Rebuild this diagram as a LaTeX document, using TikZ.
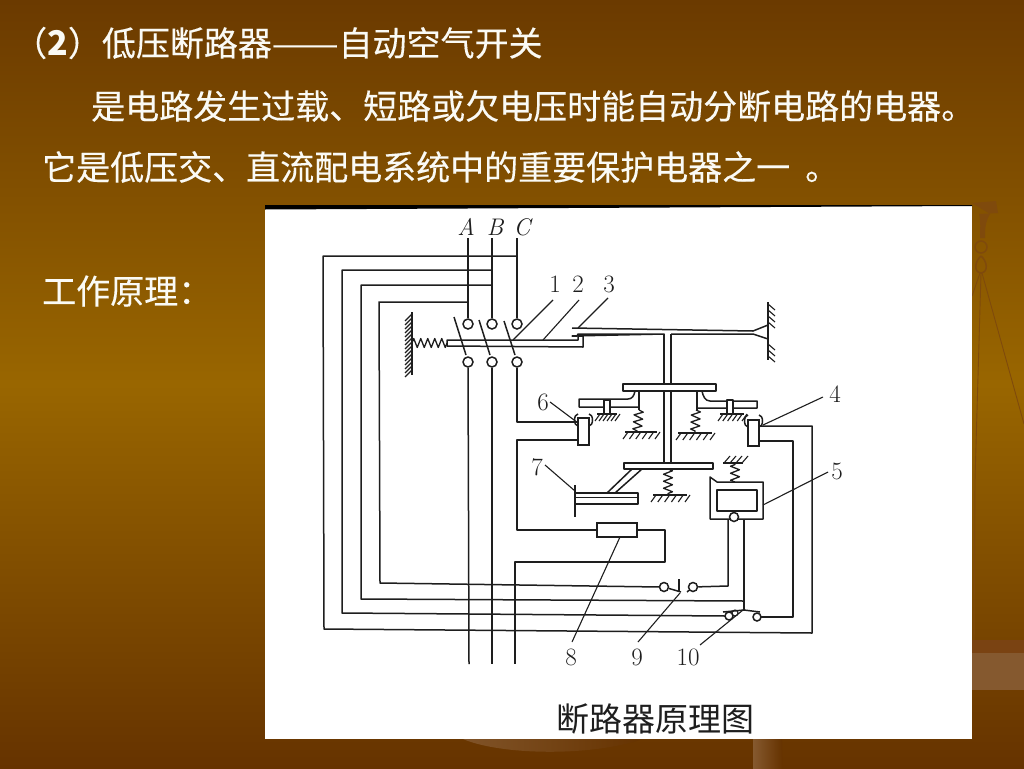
\documentclass[tikz,border=0pt]{standalone}
\usepackage{fontspec}
\setmainfont{Liberation Sans}
\newfontfamily\cjk{Noto Sans CJK SC}
\newfontfamily\cjkheavy[FakeBold=0.25]{Noto Sans CJK SC}
\newfontfamily\lat{Latin Modern Roman}
\usetikzlibrary{decorations.pathmorphing}
\definecolor{bgtop}{HTML}{6B3A00}
\definecolor{bgmid}{HTML}{996600}
\definecolor{bgbot}{HTML}{663300}
\definecolor{ink}{HTML}{1E1E1E}
\definecolor{deco}{HTML}{7F4A0C}
\definecolor{decolight}{HTML}{85592F}
\definecolor{decodark}{HTML}{7A4312}
\definecolor{txt}{HTML}{FAFAF5}
\tikzset{
  wire/.style={draw=ink,line width=1.5pt,line join=round},
  thin wire/.style={draw=ink,line width=1.1pt},
  contact/.style={circle,draw=ink,line width=1.5pt,fill=white,inner sep=0pt,minimum size=#1},
  contact/.default=10pt,
  slidetext/.style={anchor=west,inner sep=0pt,text=txt,font=\cjkheavy\fontsize{34}{38}\selectfont},
  numlabel/.style={inner sep=0pt,text=ink,font=\lat\fontsize{25}{28}\selectfont},
  phaselabel/.style={inner sep=0pt,text=ink,font=\lat\itshape\fontsize{24}{28}\selectfont},
  sprg/.style={draw=ink,line width=1.3pt,line join=round,decorate,decoration={zigzag,segment length=7pt,amplitude=4.5pt}},
}
\newcommand{\gnd}[3]{% x1,x2,y : ground bar with hatches below
  \draw[thin wire] (#1,#3) -- (#2,#3);
  \foreach \q in {0,.2,.4,.6,.8,1} {
    \draw[thin wire] ({#1+(#2-#1)*\q+3},#3) -- ++(-5,7);
  }
}
\begin{document}
\begin{tikzpicture}[x=1pt,y=-1pt]
\useasboundingbox (0,0) rectangle (1024,768);
% background
\shade[top color=bgtop,bottom color=bgmid] (0,0) rectangle (1024,384);
\shade[top color=bgmid,bottom color=bgbot] (0,384) rectangle (1024,768);
% balance decoration
\fill[deco] (972,203) -- (996,201) -- (998,213) -- (979,214) .. controls (981,222) and (980,230) .. (980,238) -- (985,238) .. controls (985,230) and (985,222) .. (990,214) -- cycle;
\draw[deco,line width=1.5pt] (981,247) circle[radius=6];
\draw[deco,line width=1.5pt] (981,256) .. controls (975,261) and (973,272) .. (981,273) .. controls (989,272) and (987,261) .. (981,256);
\draw[deco,line width=.9pt] (980,273) -- (972,296);
\draw[deco,line width=.9pt] (981,273) -- (975,480) -- (974,640);
\draw[deco,line width=.9pt] (982,273) -- (1024,424);
\fill[decodark] (972,640) rectangle (1024,653);
\fill[decolight] (972,653) rectangle (1024,690);
\shade[left color=decolight,right color=bgbot] (753,739) rectangle (782,768);
\shade[left color=decolight!85!bgbot,right color=bgbot] (463,739) .. controls (500,755) and (590,757) .. (643,739) -- cycle;
% white panel
\fill[white] (265,205) rectangle (972,739);
\fill[black] (265,205) -- (972,205) -- (972,206) -- (265,209.5) -- cycle;
% slide text
\node[slidetext] (t1) at (13,43) {（{\cjk\textbf{2}}）低压断路器\scalebox{1.17}[1]{——}自动空气开关};
\node[slidetext] (t2) at (91,106) {是电路发生过载、短路或欠电压时能自动分断电路的电器。};
\node[slidetext] (t3) at (42,167) {它是低压交、直流配电系统中的重要保护电器之一\hspace{15pt}。};
\node[slidetext] (t4) at (42,291) {工作原理：};
% phase labels
\node[phaselabel] (lA) at (466,227) {A};
\node[phaselabel] (lB) at (495,227) {B};
\node[phaselabel] (lC) at (522,227) {C};
% bar + spring + wall
\draw[wire,fill=white] (447,340) -- (578,340) -- (578,336) -- (583,336) -- (583,347) -- (447,346) -- cycle;
\draw[wire] (412,312) -- (412,375);
\foreach \y in {314,318,...,370} \draw[thin wire] (412,\y) -- ++(-7,7);
\draw[sprg] (412,343) -- (447,343);
% contacts
\node[contact] (ua) at (468,324) {};
\node[contact] (ub) at (492,324) {};
\node[contact] (uc) at (517,324) {};
\node[contact] (da) at (468,362) {};
\node[contact] (db) at (492,362) {};
\node[contact] (dc) at (517,362) {};
% phase lines
\draw[wire] (468,238) -- (ua);
\draw[wire] (492,238) -- (ub);
\draw[wire] (517,238) -- (uc);
\draw[wire] (da) -- (469,664);
\draw[wire] (db) -- (492,664);
% bus lines
\draw[wire] (517,256) -- (323,256) -- (324,629) -- (812,633) -- (812,426) -- (759,426);
\draw[wire] (492,270) -- (342,270) -- (342,613) -- (725,616);
\draw[wire] (492,285) -- (361,285) -- (361,599) -- (744,601);
\draw[wire] (468,302) -- (379,302) -- (380,583) -- (660,587);
% blades
\draw[wire] (454,317) -- (466,355);
\draw[wire] (479,320) -- (490,355);
\draw[wire] (504,321) -- (515,355);
% lever and wall
\draw[wire] (572,328) -- (753,331) -- (768,325) -- (768,339) -- (753,334) -- (671,334);
\draw[wire] (664,334) -- (578,334) -- (577,336) -- (572,336) -- cycle;
\draw[wire] (768,302) -- (768,360);
\foreach \y in {304,310,316,322,344,350,356} \draw[thin wire] (768,\y) -- ++(7,6);
% stem + plates
\draw[wire] (664,334) -- (664,384);
\draw[wire] (671,334) -- (671,384);
\draw[wire,fill=white] (623,384) rectangle (716,391);
\draw[wire] (664,391) -- (664,463);
\draw[wire] (671,391) -- (671,463);
\draw[wire,fill=white] (624,463) rectangle (713,469);
% left armature
\draw[wire] (635,391) .. controls (634,396) and (632,399) .. (628,399) -- (579,399) -- (579,407) -- (639,407);
\draw[wire] (639,391) -- (639,410);
\draw[sprg] (639,410) -- (637,432);
\gnd{625}{657}{432}
\draw[wire,fill=white] (604,400) rectangle (610,414);
\gnd{597}{617}{414}
% right armature
\draw[wire] (702,391) .. controls (703,396) and (705,401) .. (710,401) -- (757,401) -- (757,408) -- (697,408);
\draw[wire] (697,391) -- (697,410);
\draw[sprg] (696,410) -- (695,432);
\gnd{678}{712}{433}
\draw[wire,fill=white] (727,400) rectangle (733,414);
\gnd{720}{744}{414}
% contact 6
\draw[wire] (578,426) arc[start angle=90,end angle=270,x radius=3.5,y radius=6];
\draw[wire] (589,426) arc[start angle=90,end angle=-90,x radius=3.5,y radius=6];
\node[draw=ink,line width=1.5pt,fill=white,minimum width=11pt,minimum height=27pt,inner sep=0pt] (k6) at (583.5,431.5) {};
\draw[wire] (dc) -- (517,422) -- (577,422);
\draw[wire] (577,440) -- (517,440) -- (517,530) -- (597,530);
% contact 4
\draw[wire] (748,427) arc[start angle=90,end angle=270,x radius=3.5,y radius=6];
\draw[wire] (759,427) arc[start angle=90,end angle=-90,x radius=3.5,y radius=6];
\node[draw=ink,line width=1.5pt,fill=white,minimum width=11pt,minimum height=26pt,inner sep=0pt] (k4) at (753.5,433) {};
\draw[wire] (759,441) -- (793,441) -- (793,617) -- (761,617);
% item 7
\draw[wire] (575,485) -- (575,517);
\draw[wire,fill=white] (575,493) -- (638,493) -- (638,504) -- (575,504) -- cycle;
\draw[thin wire] (575,497.5) -- (638,497.5);
\draw[wire] (607,493) -- (632,469);
\draw[wire] (615,493) -- (642,469);
% spring below lower plate
\draw[sprg] (668,469) -- (668,495);
\gnd{653}{687}{495}
% item 5
\draw[wire] (710,477) -- (710,519) -- (763,519) -- (763,482) -- (717,482) -- cycle;
\draw[wire] (717,490) rectangle (757,511);
\node[contact=9pt] (c5) at (734,517) {};
\draw[sprg] (735,482) -- (735,463);
\draw[thin wire] (723,463) -- (743,463);
\foreach \x in {724,730,736,742} \draw[thin wire] (\x,463) -- ++(6,-7);
% box 8
\node[draw=ink,line width=1.5pt,fill=white,minimum width=40pt,minimum height=14pt,inner sep=0pt] (b8) at (617,530) {};
\draw[wire] (b8.east) -- (665,530) -- (665,562) -- (515,562) -- (515,664);
% contacts 9 and 10
\node[contact=9pt] (n9l) at (664,587) {};
\node[contact=9pt] (n9r) at (693,587) {};
\node[contact=8pt] (n10l) at (729,616) {};
\node[contact=8pt] (n10r) at (757,617) {};
\draw[wire] (n9l) -- (681,592);
\draw[wire] (687,592) -- (n9r);
\draw[wire] (679,579) -- (679,592);
\draw[wire] (n9r) -- (728,586) -- (728,520);
\draw[wire] (744,520) -- (744,610);
\draw[wire] (723,612) -- (744,610) -- (760,612);
\draw[thin wire] (735,613) circle[radius=3];
% leaders
\node[numlabel] (n1) at (555,284) {1};
\node[numlabel] (n2) at (578,284) {2};
\node[numlabel] (n3) at (609,284) {3};
\node[numlabel] (n4) at (835,394) {4};
\node[numlabel] (n5) at (837,471) {5};
\node[numlabel] (n6) at (543,402) {6};
\node[numlabel] (n7) at (537,467) {7};
\node[numlabel] (n8) at (571,657) {8};
\node[numlabel] (n9) at (637,657) {9};
\node[numlabel] (n10) at (688,657) {10};
\draw[thin wire] (553,300) -- (513,340);
\draw[thin wire] (579,300) -- (543,340);
\draw[thin wire] (608,298) -- (578,328);
\draw[thin wire] (823,397) -- (763,425);
\draw[thin wire] (828,472) -- (763,505);
\draw[thin wire] (550,402) -- (578,423);
\draw[thin wire] (545,465) -- (575,491);
\draw[thin wire] (620,537) -- (572,642);
\draw[thin wire] (638,642) -- (680,593);
\draw[thin wire] (700,645) -- (743,610);
% caption
\node[inner sep=0pt,text=ink,font=\cjk\fontsize{33}{36}\selectfont] (cap) at (655,719) {断路器原理图};
\end{tikzpicture}
\end{document}
